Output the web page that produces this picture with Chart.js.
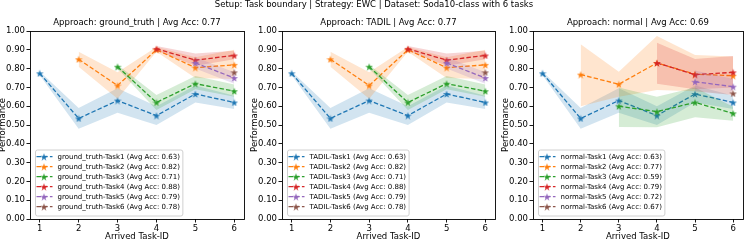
<!DOCTYPE html>
<html>
<head>
<meta charset="utf-8">
<script src="https://cdn.jsdelivr.net/npm/chart.js@4.4.1/dist/chart.umd.min.js"></script>
<style>
    html, body { margin: 0; padding: 0; background: #fff; }
    #wrap { position: relative; width: 748px; height: 241px; overflow: hidden; }
    #wrap canvas { position: absolute; left: 0; top: 0; }
</style>
</head>
<body>
<div id="wrap">
    <canvas id="chart0" width="748" height="241"></canvas>
    <canvas id="chart1" width="748" height="241"></canvas>
    <canvas id="chart2" width="748" height="241"></canvas>
</div>
<script>
// data
const taskIds = [1, 2, 3, 4, 5, 6];
const yTicks = [0, 0.1, 0.2, 0.3, 0.4, 0.5, 0.6, 0.7, 0.8, 0.9, 1.0];
const taskNames = ['Task1', 'Task2', 'Task3', 'Task4', 'Task5', 'Task6'];
const approaches = ['ground_truth', 'TADIL', 'normal'];
const approachAcc = [0.77, 0.77, 0.69];

// ground_truth
const gtMean = [
    [0.775, 0.535, 0.63, 0.55, 0.665, 0.62],
    [null, 0.85, 0.71, 0.90, 0.805, 0.82],
    [null, null, 0.81, 0.62, 0.72, 0.68],
    [null, null, null, 0.905, 0.845, 0.87],
    [null, null, null, null, 0.83, 0.75],
    [null, null, null, null, null, 0.78]
];
const gtLow = [
    [0.765, 0.48, 0.565, 0.50, 0.62, 0.585],
    [null, 0.81, 0.64, 0.89, 0.75, 0.745],
    [null, null, 0.80, 0.58, 0.69, 0.65],
    [null, null, null, 0.895, 0.815, 0.85],
    [null, null, null, null, 0.80, 0.72],
    [null, null, null, null, null, 0.77]
];
const gtHigh = [
    [0.785, 0.59, 0.695, 0.60, 0.71, 0.655],
    [null, 0.89, 0.78, 0.915, 0.86, 0.90],
    [null, null, 0.82, 0.66, 0.76, 0.715],
    [null, null, null, 0.92, 0.88, 0.895],
    [null, null, null, null, 0.86, 0.78],
    [null, null, null, null, null, 0.79]
];
const gtAcc = [0.63, 0.82, 0.71, 0.88, 0.79, 0.78];

// TADIL
const tadilMean = [
    [0.775, 0.535, 0.63, 0.55, 0.665, 0.62],
    [null, 0.85, 0.71, 0.90, 0.805, 0.82],
    [null, null, 0.81, 0.62, 0.72, 0.68],
    [null, null, null, 0.905, 0.845, 0.87],
    [null, null, null, null, 0.83, 0.75],
    [null, null, null, null, null, 0.78]
];
const tadilLow = [
    [0.765, 0.48, 0.565, 0.50, 0.62, 0.585],
    [null, 0.81, 0.64, 0.89, 0.75, 0.745],
    [null, null, 0.80, 0.58, 0.69, 0.65],
    [null, null, null, 0.895, 0.815, 0.85],
    [null, null, null, null, 0.80, 0.72],
    [null, null, null, null, null, 0.77]
];
const tadilHigh = [
    [0.785, 0.59, 0.695, 0.60, 0.71, 0.655],
    [null, 0.89, 0.78, 0.915, 0.86, 0.90],
    [null, null, 0.82, 0.66, 0.76, 0.715],
    [null, null, null, 0.92, 0.88, 0.895],
    [null, null, null, null, 0.86, 0.78],
    [null, null, null, null, null, 0.79]
];
const tadilAcc = [0.63, 0.82, 0.71, 0.88, 0.79, 0.78];

// normal
const normalMean = [
    [0.775, 0.535, 0.63, 0.55, 0.665, 0.62],
    [null, 0.768, 0.717, 0.83, 0.77, 0.762],
    [null, null, 0.60, 0.571, 0.62, 0.562],
    [null, null, null, 0.83, 0.768, 0.78],
    [null, null, null, null, 0.73, 0.704],
    [null, null, null, null, null, 0.668]
];
const normalLow = [
    [0.765, 0.48, 0.565, 0.50, 0.62, 0.585],
    [null, 0.60, 0.65, 0.686, 0.68, 0.66],
    [null, null, 0.49, 0.488, 0.541, 0.523],
    [null, null, null, 0.72, 0.69, 0.70],
    [null, null, null, null, 0.68, 0.66],
    [null, null, null, null, null, 0.66]
];
const normalHigh = [
    [0.785, 0.59, 0.695, 0.60, 0.71, 0.655],
    [null, 0.93, 0.783, 0.973, 0.872, 0.865],
    [null, null, 0.70, 0.65, 0.70, 0.597],
    [null, null, null, 0.938, 0.851, 0.867],
    [null, null, null, null, 0.79, 0.745],
    [null, null, null, null, null, 0.676]
];
const normalAcc = [0.63, 0.77, 0.59, 0.79, 0.72, 0.67];

const colors = ['#1f77b4', '#ff7f0e', '#2ca02c', '#d62728', '#9467bd', '#8c564b'];
const bands = ['rgba(31,119,180,0.2)', 'rgba(255,127,14,0.2)', 'rgba(44,160,44,0.2)',
    'rgba(214,39,40,0.2)', 'rgba(148,103,189,0.2)', 'rgba(140,86,75,0.2)'];

const FONT = '"DejaVu Sans", sans-serif';

// filled 5-point star like matplotlib '*'
function makeStar(color, size) {
    const c = document.createElement('canvas');
    c.width = size;
    c.height = size;
    const g = c.getContext('2d');
    const R = size / 2, r = R * 0.382;
    g.beginPath();
    for (let i = 0; i < 10; i++) {
        const a = -Math.PI / 2 + i * Math.PI / 5;
        const rad = i % 2 ? r : R;
        g.lineTo(R + rad * Math.cos(a), R + 0.5 + rad * Math.sin(a));
    }
    g.closePath();
    g.fillStyle = color;
    g.fill();
    return c;
}
const stars = colors.map(c => makeStar(c, 8));

function toPoints(arr) {
    const pts = [];
    arr.forEach((v, i) => { if (v !== null) pts.push({x: taskIds[i], y: v}); });
    return pts;
}

const panelText = {
    id: 'panelText',
    afterDraw(chart, args, opts) {
        const ctx = chart.ctx;
        const a = chart.chartArea;
        ctx.save();
        // spines
        ctx.strokeStyle = '#000';
        ctx.lineWidth = 0.9;
        ctx.strokeRect(Math.round(a.left) + 0.5, Math.round(a.top) + 0.5,
            Math.round(a.right) - Math.round(a.left), Math.round(a.bottom) - Math.round(a.top));

        ctx.fillStyle = '#000';
        ctx.font = '8.5px ' + FONT;
        ctx.textAlign = 'center';
        ctx.textBaseline = 'middle';
        const cx = (a.left + a.right) / 2;
        ctx.fillText(opts.title, cx, 23);
        ctx.fillText('Arrived Task-ID', cx, 237);
        if (opts.suptitle) {
            ctx.fillText(opts.suptitle, 374, 5);
        }
        ctx.save();
        ctx.translate(a.left - 27, (a.top + a.bottom) / 2);
        ctx.rotate(-Math.PI / 2);
        ctx.fillText('Performance', 0, 0);
        ctx.restore();

        // legend
        ctx.font = '7px ' + FONT;
        ctx.textAlign = 'left';
        const labels = opts.labels;
        let tw = 0;
        labels.forEach(l => { tw = Math.max(tw, ctx.measureText(l).width); });
        const bx = a.left + 5.5, by = 150;
        const bw = 22 + tw + 3, bh = 66;
        ctx.beginPath();
        ctx.roundRect(bx, by, bw, bh, 2);
        ctx.fillStyle = 'rgba(255,255,255,0.8)';
        ctx.fill();
        ctx.strokeStyle = '#d0d0d0';
        ctx.lineWidth = 1;
        ctx.stroke();
        labels.forEach((l, i) => {
            const y = 156.7 + 10 * i;
            ctx.strokeStyle = colors[i];
            ctx.lineWidth = 1.3;
            ctx.setLineDash([4.5, 2.2]);
            ctx.beginPath();
            ctx.moveTo(bx + 1, y);
            ctx.lineTo(bx + 17, y);
            ctx.stroke();
            ctx.setLineDash([]);
            ctx.drawImage(stars[i], bx + 8.5 - 4, y - 4);
            ctx.fillStyle = '#000';
            ctx.fillText(l, bx + 22, y);
        });
        ctx.restore();
    }
};

function buildChart(id, idx, mean, low, high, acc, left, right) {
    const datasets = [];
    mean.forEach((m, k) => {
        const lowIndex = datasets.length;
        datasets.push({
            data: toPoints(low[k]),
            borderWidth: 0,
            pointRadius: 0,
            fill: false,
            order: 100 - 3 * k
        });
        datasets.push({
            data: toPoints(high[k]),
            borderWidth: 0,
            pointRadius: 0,
            backgroundColor: bands[k],
            fill: lowIndex,
            order: 100 - 3 * k
        });
        datasets.push({
            data: toPoints(m),
            borderColor: colors[k],
            borderWidth: 1.3,
            borderDash: [4.5, 2.2],
            pointStyle: stars[k],
            pointRadius: 4,
            fill: false,
            order: 99 - 3 * k
        });
    });

    const labels = taskNames.map((t, k) =>
        approaches[idx] + '-' + t + ' (Avg Acc: ' + acc[k].toFixed(2) + ')');

    return new Chart(document.getElementById(id).getContext('2d'), {
        type: 'line',
        data: {datasets: datasets},
        options: {
            responsive: false,
            animation: false,
            devicePixelRatio: 1,
            layout: {
                padding: {left: left - 30, right: 748 - right, top: 31, bottom: 0}
            },
            scales: {
                x: {
                    type: 'linear',
                    min: 0.75,
                    max: 6.25,
                    afterBuildTicks: s => { s.ticks = taskIds.map(v => ({value: v})); },
                    afterFit: s => { s.height = 22; },
                    grid: {drawOnChartArea: false, drawTicks: true, tickLength: 3.5, tickColor: '#000', tickWidth: 0.9},
                    border: {display: false},
                    ticks: {font: {size: 8.5, family: FONT}, color: '#000', padding: 1, maxRotation: 0, autoSkip: false}
                },
                y: {
                    min: 0,
                    max: 1,
                    afterBuildTicks: s => { s.ticks = yTicks.map(v => ({value: v})); },
                    afterFit: s => { s.width = 30; },
                    grid: {drawOnChartArea: false, drawTicks: true, tickLength: 3.5, tickColor: '#000', tickWidth: 0.9},
                    border: {display: false},
                    ticks: {
                        font: {size: 8.5, family: FONT},
                        color: '#000',
                        padding: 1.5,
                        callback: v => v.toFixed(2)
                    }
                }
            },
            plugins: {
                legend: {display: false},
                tooltip: {enabled: false},
                panelText: {
                    title: 'Approach: ' + approaches[idx] + ' | Avg Acc: ' + approachAcc[idx].toFixed(2),
                    labels: labels,
                    suptitle: idx === 0 ? 'Setup: Task boundary | Strategy: EWC | Dataset: Soda10-class with 6 tasks' : null
                }
            }
        },
        plugins: [panelText]
    });
}

buildChart('chart0', 0, gtMean, gtLow, gtHigh, gtAcc, 30, 244);
buildChart('chart1', 1, tadilMean, tadilLow, tadilHigh, tadilAcc, 282, 495);
buildChart('chart2', 2, normalMean, normalLow, normalHigh, normalAcc, 533, 746);
</script>
</body>
</html>
